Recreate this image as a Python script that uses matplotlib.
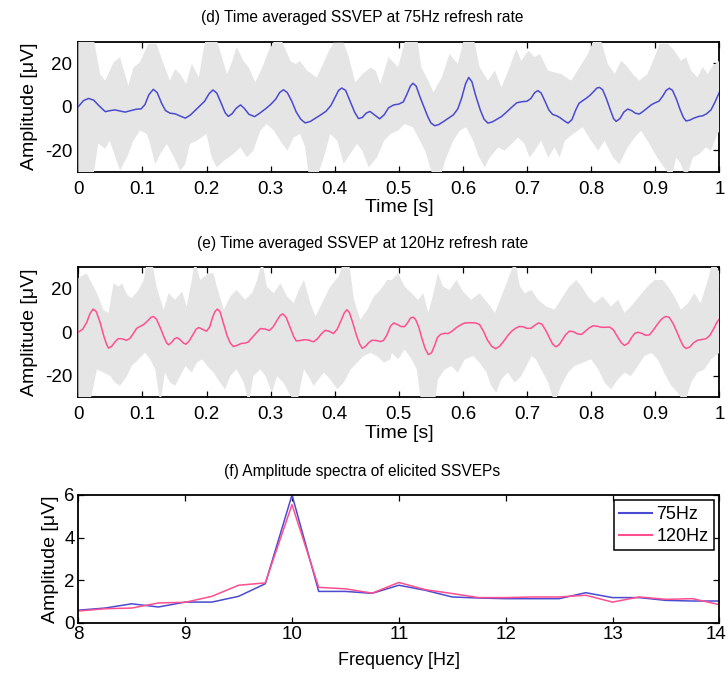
import numpy as np
import matplotlib
matplotlib.use("Agg")
import matplotlib.pyplot as plt
import matplotlib.transforms as mtransforms

# ---- data ----
# (d) 75Hz time average
t75 = [0.000, 0.008, 0.016, 0.024, 0.032, 0.042, 0.050, 0.057, 0.065, 0.073, 0.082, 0.090, 0.098, 0.104, 0.110,
       0.117, 0.123, 0.130, 0.136, 0.143, 0.151, 0.158, 0.167, 0.175, 0.183, 0.190, 0.197, 0.204, 0.210, 0.216,
       0.223, 0.229, 0.234, 0.240, 0.246, 0.253, 0.259, 0.266, 0.275, 0.283, 0.292, 0.300, 0.308, 0.314, 0.320,
       0.326, 0.333, 0.340, 0.347, 0.354, 0.362, 0.370, 0.378, 0.386, 0.394, 0.400, 0.406, 0.411, 0.417, 0.424,
       0.431, 0.437, 0.443, 0.449, 0.455, 0.462, 0.470, 0.477, 0.484, 0.492, 0.500, 0.507, 0.513, 0.518, 0.522,
       0.527, 0.533, 0.539, 0.545, 0.550, 0.556, 0.562, 0.570, 0.578, 0.585, 0.592, 0.598, 0.604, 0.609, 0.614,
       0.620, 0.627, 0.633, 0.639, 0.646, 0.653, 0.660, 0.668, 0.676, 0.684, 0.692, 0.700, 0.706, 0.712, 0.717,
       0.722, 0.728, 0.734, 0.740, 0.746, 0.751, 0.758, 0.764, 0.770, 0.776, 0.781, 0.787, 0.793, 0.798, 0.804,
       0.809, 0.813, 0.818, 0.824, 0.830, 0.835, 0.839, 0.845, 0.851, 0.857, 0.863, 0.869, 0.875, 0.881, 0.888,
       0.894, 0.900, 0.906, 0.912, 0.917, 0.922, 0.927, 0.933, 0.939, 0.944, 0.948, 0.954, 0.961, 0.968, 0.974,
       0.980, 0.987, 0.993, 1.000]
amp75 = [0.0, 2.8, 3.8, 3.0, 0.5, -2.3, -1.8, -1.5, -2.0, -2.5, -1.8, -1.2, -1.0, 1.0, 5.5,
         8.0, 6.5, 1.5, -1.8, -3.0, -3.3, -4.2, -5.3, -3.8, -1.5, 0.5, 2.5, 6.0, 7.7, 6.3,
         1.5, -2.8, -4.5, -3.2, -0.8, 0.8, -0.8, -3.5, -4.6, -3.0, -1.0, 1.0, 3.5, 6.5, 7.8,
         6.5, 2.5, -2.5, -5.8, -7.5, -6.8, -5.3, -3.8, -2.2, 0.5, 4.0, 7.5, 8.6, 7.5, 2.5,
         -2.5, -5.5, -5.0, -3.0, -2.2, -3.8, -5.6, -3.8, -0.5, 0.8, 1.2, 2.2, 6.0, 9.5, 10.8,
         9.5, 4.5, 0.0, -4.5, -7.5, -8.8, -8.3, -6.8, -5.2, -3.8, -1.0, 4.0, 10.5, 13.5, 11.5,
         5.0, -1.5, -5.8, -7.6, -7.0, -5.8, -4.6, -2.5, -0.3, 1.8, 2.3, 2.5, 3.8, 6.5, 7.4,
         6.3, 2.5, -1.5, -3.6, -4.2, -5.0, -6.5, -7.6, -6.0, -1.5, 1.5, 2.8, 4.0, 5.2, 7.0,
         8.6, 8.9, 7.8, 3.5, -1.5, -5.5, -6.8, -5.5, -2.5, -1.1, -1.8, -3.0, -3.4, -2.2, -0.5,
         0.9, 1.8, 2.6, 5.0, 7.5, 8.5, 7.5, 3.5, -1.5, -5.0, -6.6, -6.2, -5.2, -4.5, -4.2,
         -3.3, -1.5, 2.0, 6.6]

t75_upper = [0, .023, .034, .042, .055, .065, .078, .086, .096, .109, .122, .133, .143, .151, .159, .168, .177,
             .188, .195, .2, .214, .221, .232, .24, .247, .258, .266, .276, .286, .297, .305, .318, .331, .339,
             .346, .357, .372, .383, .391, .398, .414, .422, .432, .443, .456, .464, .471, .484, .499, .512, .528,
             .535, .546, .554, .567, .579, .592, .603, .616, .626, .639, .65, .66, .673, .683, .691, .702, .712,
             .72, .733, .743, .753, .769, .782, .795, .803, .816, .826, .837, .847, .855, .865, .875, .888, .899,
             .907, .92, .93, .94, .948, .956, .966, .974, .982, .99, 1.0]
amp75_upper = [35, 33, 15, 12, 20.5, 22.8, 9.7, 18, 20.5, 29, 29, 19.7, 12, 17.4, 15, 10.5, 19.7,
               13.5, 25.8, 33, 33, 25.8, 15, 21, 27.4, 21, 18, 11.2, 17.4, 25.8, 30, 30, 21, 19.7,
               21, 16.6, 13.5, 20.5, 25.8, 29.5, 29.5, 22.8, 11.2, 15, 18, 16.6, 10.5, 22.8, 18.2, 33, 33,
               18.2, 12, 6.6, 13.5, 24.3, 19.7, 33, 33, 18.2, 12, 16.6, 8.9, 18.2, 26.6, 21.2, 25.8, 22.8,
               24.3, 16.6, 15.8, 15.1, 12, 18.2, 24.3, 30, 30, 19.7, 15.1, 21.2, 18.9, 15.1, 12, 15.1, 22.8,
               29, 29, 25.8, 21.2, 22.8, 16.6, 13.5, 18.2, 15.1, 18.9, 21.2]
t75_lower = [0, .023, .031, .042, .049, .057, .065, .076, .086, .096, .107, .112, .12, .128, .138, .148, .159,
             .167, .174, .185, .2, .208, .216, .227, .242, .253, .263, .273, .284, .294, .305, .315, .326, .336,
             .346, .354, .36, .372, .383, .393, .404, .414, .424, .435, .443, .453, .466, .477, .487, .499, .509,
             .522, .533, .541, .554, .564, .574, .585, .595, .605, .616, .624, .634, .642, .655, .665, .676, .686,
             .696, .704, .712, .722, .733, .743, .751, .759, .772, .787, .8, .811, .821, .834, .844, .857, .868,
             .878, .891, .903, .914, .925, .933, .94, .948, .959, .969, .979, .987, .995, 1.0]
amp75_lower = [-35, -33, -17, -19.5, -15.7, -22.6, -29.5, -23.4, -15.7, -11, -12.6, -17.2, -26.5, -21.8, -17.2,
               -22.6, -29.5, -26.5, -17.2, -15.7, -12.6, -23.4, -28, -25, -21.8, -18.8, -23.4, -20.3, -11, -8,
               -11, -15.7, -20.3, -14.2, -12.6, -18.8, -33, -33, -23.4, -12.6, -15.7, -26.5, -21.8, -17.2, -20.3,
               -28, -23.4, -15.7, -12.6, -11.1, -8, -9.5, -15.7, -20.3, -33, -33, -23.4, -15.7, -11.1, -9.5,
               -15.7, -22.6, -28, -23.4, -18.8, -20.3, -17.2, -14.2, -17.2, -23.4, -20.3, -15.7, -23.4, -18.8,
               -23.4, -15.7, -12.6, -9.5, -15.7, -20.3, -15.7, -23.4, -26.5, -18.8, -14.2, -11.1, -17.2, -23.4,
               -28, -33, -23.4, -26.5, -33, -23.4, -21.8, -18.8, -20.3, -14.2, -11.1]

# (e) 120Hz time average
t120 = [0.000, 0.007, 0.013, 0.018, 0.023, 0.028, 0.034, 0.040, 0.044, 0.047, 0.052, 0.057, 0.062, 0.068, 0.075,
        0.080, 0.086, 0.091, 0.097, 0.102, 0.108, 0.113, 0.117, 0.122, 0.128, 0.134, 0.138, 0.141, 0.146, 0.150,
        0.154, 0.159, 0.164, 0.168, 0.173, 0.178, 0.184, 0.188, 0.194, 0.200, 0.205, 0.209, 0.213, 0.217, 0.221,
        0.226, 0.232, 0.237, 0.242, 0.248, 0.254, 0.260, 0.265, 0.271, 0.277, 0.284, 0.291, 0.298, 0.304, 0.310,
        0.315, 0.319, 0.324, 0.330, 0.336, 0.340, 0.346, 0.354, 0.361, 0.367, 0.373, 0.379, 0.385, 0.391, 0.398,
        0.404, 0.410, 0.415, 0.419, 0.423, 0.428, 0.434, 0.439, 0.443, 0.448, 0.453, 0.458, 0.465, 0.471, 0.476,
        0.481, 0.487, 0.492, 0.498, 0.504, 0.509, 0.514, 0.518, 0.522, 0.526, 0.531, 0.536, 0.541, 0.546, 0.551,
        0.556, 0.560, 0.565, 0.571, 0.577, 0.583, 0.590, 0.597, 0.603, 0.612, 0.620, 0.626, 0.632, 0.638, 0.645,
        0.651, 0.657, 0.664, 0.670, 0.676, 0.682, 0.688, 0.694, 0.700, 0.706, 0.712, 0.718, 0.723, 0.729, 0.735,
        0.740, 0.745, 0.750, 0.755, 0.760, 0.766, 0.772, 0.779, 0.785, 0.791, 0.797, 0.803, 0.809, 0.816, 0.822,
        0.829, 0.835, 0.841, 0.847, 0.852, 0.858, 0.863, 0.868, 0.873, 0.879, 0.885, 0.891, 0.897, 0.903, 0.909,
        0.914, 0.917, 0.922, 0.928, 0.934, 0.939, 0.944, 0.948, 0.954, 0.960, 0.966, 0.973, 0.979, 0.985, 0.991,
        0.996, 1.000]
amp120 = [0.0, 1.5, 4.5, 8.5, 10.7, 9.5, 4.5, -2.0, -5.5, -7.3, -6.5, -4.5, -3.0, -3.0, -3.7,
          -3.0, -0.5, 1.8, 2.8, 3.6, 5.2, 6.8, 7.3, 6.0, 2.0, -2.5, -5.0, -5.8, -4.5, -3.0,
          -2.5, -3.5, -5.0, -5.5, -4.0, -1.5, 1.5, 2.2, 1.3, 0.5, 2.5, 6.5, 9.5, 10.7, 9.5,
          4.5, -1.5, -5.0, -6.6, -6.0, -5.2, -5.0, -4.5, -2.5, -0.5, 1.7, 1.5, 0.8, 2.5, 5.5,
          7.8, 8.5, 7.0, 2.5, -2.0, -4.0, -3.8, -3.4, -3.8, -4.4, -3.0, -0.8, 0.9, 0.5, -0.6,
          1.5, 5.5, 9.0, 10.4, 9.0, 4.5, -1.5, -5.5, -7.4, -6.5, -4.8, -3.7, -3.8, -4.3, -3.8,
          -1.5, 2.8, 4.3, 3.5, 2.6, 2.6, 4.5, 6.5, 7.0, 6.0, 2.5, -2.8, -7.5, -10.3, -9.5,
          -6.0, -2.5, -1.0, -0.5, -0.6, 0.5, 2.2, 3.5, 4.3, 4.4, 4.3, 3.5, 0.5, -3.5, -6.5,
          -7.6, -6.5, -4.0, -1.5, 0.5, 1.8, 2.7, 2.5, 1.8, 1.8, 3.2, 4.3, 3.8, 1.0, -2.5,
          -5.5, -6.7, -5.8, -3.5, -1.2, 0.5, 0.3, -0.8, -1.0, 0.5, 2.0, 3.0, 2.8, 2.3, 2.3,
          2.4, 1.0, -2.0, -4.8, -6.1, -5.0, -2.5, -0.5, 0.0, -0.5, -1.4, -1.2, 1.0, 3.5, 5.8,
          7.0, 7.3, 6.8, 4.0, 0.0, -3.5, -6.5, -7.5, -6.8, -4.8, -3.7, -3.3, -3.0, -1.5, 1.5,
          4.5, 6.1]

t120_upper = [0, .013, .029, .039, .047, .055, .063, .068, .076, .083, .094, .102, .107, .115, .122, .133, .141,
              .151, .162, .169, .177, .182, .19, .203, .211, .216, .227, .237, .247, .26, .271, .279, .287, .294,
              .305, .315, .326, .336, .344, .352, .362, .37, .383, .393, .406, .414, .422, .43, .44, .451, .461,
              .471, .482, .489, .499, .509, .52, .53, .538, .546, .554, .561, .569, .579, .59, .6, .613, .626,
              .639, .65, .66, .67, .681, .689, .696, .707, .717, .73, .743, .756, .766, .777, .785, .795, .805,
              .818, .831, .842, .852, .862, .875, .888, .899, .912, .92, .93, .94, .951, .961, .971, .982, .99, 1.0]
amp120_upper = [25, 27.2, 18, 10.4, 8.9, 22.6, 21.1, 22.6, 17.3, 15.7, 19.5, 24.1, 33, 33, 21.1, 10.4, 18,
                15, 18.8, 11.9, 24.1, 33, 24.1, 27.2, 27.2, 21.1, 10.4, 16.5, 19.5, 15, 18, 24.1, 33, 21.1,
                18, 22.6, 16.5, 13.4, 19.5, 24.1, 13.4, 7.3, 15, 21.1, 25.6, 33, 33, 15, 5.8, 10.4, 16.5,
                19.5, 24.1, 24.1, 27.2, 21.1, 18, 15, 18, 8.9, 18, 27.2, 21.1, 19.5, 24.1, 18.8, 15, 18,
                13.4, 8.9, 16.5, 24.1, 33, 21.1, 18, 19.5, 15, 11.9, 10.4, 16.5, 21.1, 24.1, 21.1, 16.5, 13.4,
                16.5, 11.9, 15, 8.9, 11.9, 16.5, 21.1, 24.1, 24.1, 21.1, 16.5, 10.4, 13.4, 18, 13.4, 24.1, 33, 27.9]
t120_lower = [0, .01, .018, .029, .039, .05, .057, .065, .076, .083, .094, .104, .112, .12, .128, .135, .143,
              .151, .159, .167, .177, .185, .193, .201, .211, .221, .229, .237, .247, .258, .266, .273, .284,
              .292, .302, .31, .32, .331, .341, .352, .359, .367, .375, .383, .393, .404, .414, .425, .435, .445,
              .456, .466, .477, .487, .489, .499, .509, .52, .528, .535, .546, .556, .561, .572, .582, .592, .603,
              .616, .626, .637, .644, .652, .66, .67, .681, .691, .699, .707, .714, .722, .733, .743, .753, .764,
              .774, .787, .8, .811, .821, .831, .842, .852, .862, .873, .883, .894, .904, .914, .925, .935, .946,
              .956, .966, .977, .987, 1.0]
amp120_lower = [-33, -33, -33, -17.1, -18.6, -20.2, -23.2, -24.7, -20.2, -15.6, -12.5, -9.5, -12.5, -17.1, -33,
                -18.6, -23.2, -24.7, -20.2, -15.6, -18.6, -14, -12.5, -15.6, -18.6, -23.2, -26.3, -20.2, -17.1,
                -23.2, -33, -20.2, -17.1, -20.2, -27.8, -20.2, -23.2, -29.3, -33, -17.1, -20.2, -24.7, -21.7,
                -18.6, -21.7, -26.3, -23.2, -17.1, -14, -11, -9.5, -11, -14, -12.5,
                -9.5, -12.5, -7.9, -12.5, -17.1, -33, -33, -33, -21.7, -17.1, -15.6, -18.6, -12.5, -11, -14,
                -18.6, -24.7, -27.8, -21.7, -18.6, -23.2, -20.2, -15.6, -11, -12.5, -17.1, -23.2, -33, -24.7,
                -18.6, -15.6, -14, -12.5, -17.1, -23.2, -26.3, -21.7, -18.6, -20.2, -15.6, -11, -9.5, -12.5,
                -18.6, -24.7, -27.8, -33, -23.2, -18.6, -17.1, -12.5, -9.5]

# (f) amplitude spectra
freq = [8, 8.25, 8.5, 8.75, 9, 9.25, 9.5, 9.75, 10, 10.25, 10.5, 10.75, 11, 11.25, 11.5, 11.75,
        12, 12.25, 12.5, 12.75, 13, 13.25, 13.5, 13.75, 14]
spec75 = [0.6, 0.7, 0.9, 0.75, 0.98, 0.98, 1.25, 1.84, 6.0, 1.48, 1.48, 1.39, 1.77, 1.53, 1.22, 1.17,
          1.14, 1.14, 1.14, 1.42, 1.19, 1.19, 1.06, 1.03, 1.03]
spec120 = [0.56, 0.67, 0.7, 0.94, 0.97, 1.25, 1.77, 1.88, 5.55, 1.67, 1.6, 1.4, 1.9, 1.56, 1.38, 1.19,
           1.19, 1.22, 1.22, 1.3, 0.98, 1.22, 1.11, 1.14, 0.86]

time_ticks = [0, 0.1, 0.2, 0.3, 0.4, 0.5, 0.6, 0.7, 0.8, 0.9, 1]
time_ticklabels = ["0", "0.1", "0.2", "0.3", "0.4", "0.5", "0.6", "0.7", "0.8", "0.9", "1"]

BLUE = "#4a4ad2"
PINK = "#ff4f8f"
GRAY = "#e5e5e5"
TICK_FS = 13.5
LABEL_FS = 14
TITLE_FS = 11.2

plt.rcParams['font.family'] = ['Liberation Sans', 'DejaVu Sans']
plt.rcParams['axes.unicode_minus'] = False


def style_axes(ax, xpad, ypad):
    for s in ax.spines.values():
        s.set_linewidth(1.3)
        s.set_color("black")
    ax.tick_params(direction="in", top=True, right=True, length=4, width=0.9, labelsize=TICK_FS)
    ax.tick_params(axis="x", pad=xpad)
    ax.tick_params(axis="y", pad=ypad)


def time_panel(ax, t, amp, tu, au, tl, al, color, title):
    xs = np.concatenate([tu, tl[::-1]])
    ys = np.concatenate([au, al[::-1]])
    ax.fill(xs, ys, color=GRAY, lw=0, zorder=2.6)
    ax.plot(t, amp, color=color, lw=1.1, zorder=3)
    ax.set_xlim(0, 1)
    ax.set_ylim(-30, 30)
    ax.set_xticks(time_ticks)
    ax.set_xticklabels(time_ticklabels)
    ax.set_yticks([-20, 0, 20])
    ax.set_xlabel("Time [s]", labelpad=1, fontsize=LABEL_FS)
    ax.set_ylabel("Amplitude [μV]", labelpad=5, fontsize=LABEL_FS)
    ax.set_title(title, pad=14, x=0.443, fontsize=TITLE_FS)
    style_axes(ax, 6.5, 4.5)


fig = plt.figure(figsize=(7.28, 6.73), dpi=100)
ax1 = fig.add_axes([0.1076, 0.7449, 0.8805, 0.1932])
ax2 = fig.add_axes([0.1076, 0.4097, 0.8805, 0.1932])
ax3 = fig.add_axes([0.1076, 0.0743, 0.8805, 0.1902])

time_panel(ax1, t75, amp75, np.array(t75_upper), np.array(amp75_upper),
           np.array(t75_lower), np.array(amp75_lower), BLUE,
           "(d) Time averaged SSVEP at 75Hz refresh rate")
time_panel(ax2, t120, amp120, np.array(t120_upper), np.array(amp120_upper),
           np.array(t120_lower), np.array(amp120_lower), PINK,
           "(e) Time averaged SSVEP at 120Hz refresh rate")

ax3.plot(freq, spec75, color=BLUE, lw=1.1, label="75Hz")
ax3.plot(freq, spec120, color=PINK, lw=1.1, label="120Hz")
ax3.set_xlim(8, 14)
ax3.set_ylim(0, 6)
ax3.set_yticks([0, 2, 4, 6])
ax3.set_xlabel("Frequency [Hz]", labelpad=6, fontsize=13)
ax3.set_ylabel("Amplitude [μV]", labelpad=4, fontsize=LABEL_FS)
ax3.set_title("(f) Amplitude spectra of elicited SSVEPs", pad=14, x=0.443, fontsize=TITLE_FS)
style_axes(ax3, 2.5, 2.5)
leg = ax3.legend(loc="upper right", fancybox=False, framealpha=1, edgecolor="black",
                 handlelength=1.8, borderaxespad=0.3, fontsize=13, handletextpad=0.25,
                 borderpad=0.3, labelspacing=0.28)
leg.get_frame().set_linewidth(1.1)
for line in leg.get_lines():
    line.set_linewidth(1.5)

# nudge the last frequency label so it stays inside the figure, as in the reference
last = ax3.get_xticklabels()[-1]
last.set_transform(last.get_transform() + mtransforms.ScaledTranslation(-2.5 / 72, 0, fig.dpi_scale_trans))

fig.savefig("out.png", dpi=100)
